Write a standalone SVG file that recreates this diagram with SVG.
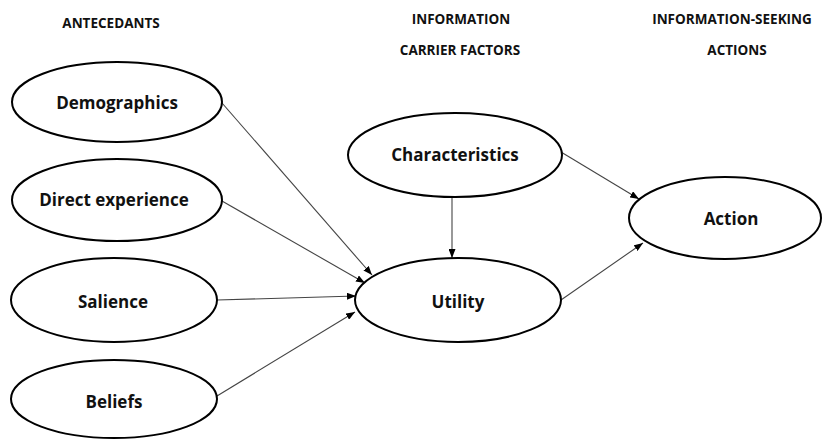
<svg xmlns="http://www.w3.org/2000/svg" width="822" height="439" viewBox="0 0 822 439">
  <style>
    .node ellipse { fill: #ffffff; stroke: #000000; stroke-width: 2; }
    .node text { font-family: "Open Sans", "Noto Sans", "Liberation Sans", sans-serif; font-weight: bold; font-size: 17px; fill: #111111; text-anchor: middle; }
    .hdr { font-family: "Open Sans", "Noto Sans", "Liberation Sans", sans-serif; font-weight: bold; font-size: 13.5px; fill: #111111; text-anchor: middle; }
    #connectors line { stroke: #444444; stroke-width: 1.1; marker-end: url(#arr); }
  </style>
  <defs>
    <marker id="arr" markerUnits="userSpaceOnUse" markerWidth="9" markerHeight="7" refX="9" refY="3.5" orient="auto">
      <path d="M0,0 L9,3.5 L0,7 z" fill="#000000"/>
    </marker>
  </defs>
  <rect width="822" height="439" fill="#ffffff"/>

  <g id="headers">
    <text class="hdr" x="111" y="28">ANTECEDANTS</text>
    <text class="hdr" x="461" y="24">INFORMATION</text>
    <text class="hdr" x="460" y="55">CARRIER FACTORS</text>
    <text class="hdr" x="732" y="24">INFORMATION-SEEKING</text>
    <text class="hdr" x="737" y="55">ACTIONS</text>
  </g>

  <g id="connectors">
    <line x1="222" y1="103" x2="372" y2="275"/>
    <line x1="222" y1="201" x2="365" y2="283"/>
    <line x1="217" y1="300" x2="356" y2="296"/>
    <line x1="217" y1="396" x2="355" y2="312"/>
    <line x1="452" y1="197" x2="452" y2="258"/>
    <line x1="561" y1="152" x2="639" y2="199"/>
    <line x1="561" y1="300" x2="643" y2="243"/>
  </g>

  <g id="demographics" class="node">
    <ellipse cx="117" cy="102" rx="105" ry="40"/>
    <text x="117" y="109">Demographics</text>
  </g>
  <g id="direct-experience" class="node">
    <ellipse cx="117" cy="200" rx="105" ry="41"/>
    <text x="114" y="206">Direct experience</text>
  </g>
  <g id="salience" class="node">
    <ellipse cx="114" cy="300" rx="103" ry="42"/>
    <text x="113" y="308">Salience</text>
  </g>
  <g id="beliefs" class="node">
    <ellipse cx="114" cy="399" rx="103" ry="39"/>
    <text x="114" y="408">Beliefs</text>
  </g>
  <g id="characteristics" class="node">
    <ellipse cx="455" cy="155" rx="107" ry="42"/>
    <text x="455" y="161">Characteristics</text>
  </g>
  <g id="utility" class="node">
    <ellipse cx="458" cy="300" rx="103" ry="42"/>
    <text x="458" y="308">Utility</text>
  </g>
  <g id="action" class="node">
    <ellipse cx="725" cy="218" rx="96" ry="41"/>
    <text x="731" y="225">Action</text>
  </g>
</svg>
